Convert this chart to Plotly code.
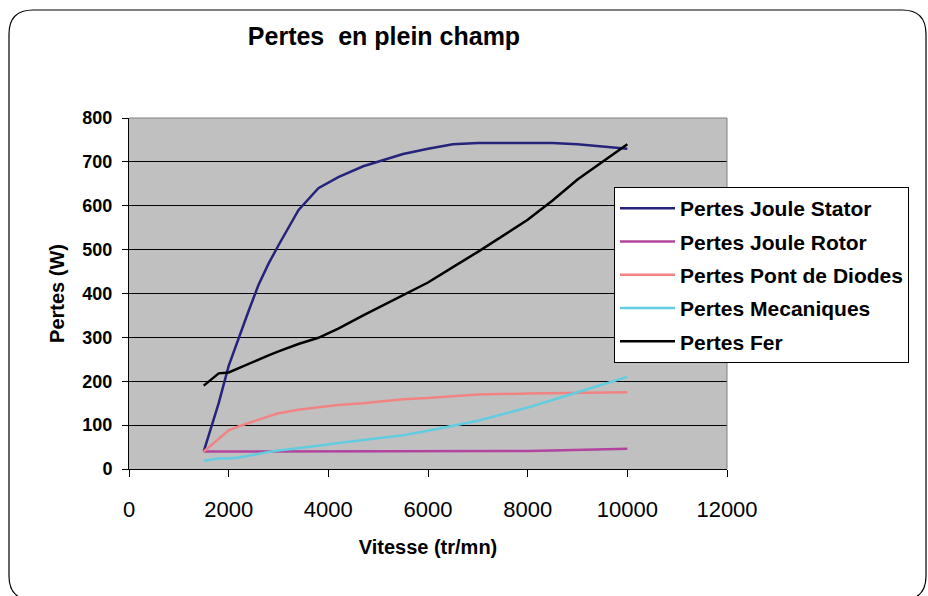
import plotly.graph_objects as go

# Vitesse (tr/mn)
vitesse = [1500, 1800, 2000, 2200, 2400, 2600, 2800, 3000, 3400, 3800,
           4200, 4700, 5500, 6000, 6500, 7000, 8000, 8500, 9000, 10000]

# Pertes (W)
joule_stator = [40, 150, 235, 300, 360, 420, 468, 510, 590, 640,
                665, 690, 718, 730, 740, 743, 743, 743, 740, 730]
joule_rotor = [40, 40, 40, 40, 40, 40, 40, 40, 40, 40,
               40, 40, 40, 40, 40, 40, 41, 42, 43, 46]
pont_diodes = [40, 70, 88, 97, 105, 113, 120, 127, 135, 141,
               146, 150, 159, 162, 166, 170, 172, 173, 174, 175]
mecaniques = [19, 24, 24, 26, 30, 35, 39, 42, 47, 53,
              59, 66, 77, 87, 98, 110, 140, 157, 175, 210]
fer = [190, 218, 220, 230, 240, 250, 259, 268, 285, 299,
       320, 350, 395, 425, 460, 495, 568, 612, 660, 740]

series = [
    ("Pertes Joule Stator", joule_stator, "#25237a"),
    ("Pertes Joule Rotor", joule_rotor, "#b0449f"),
    ("Pertes Pont de Diodes", pont_diodes, "#f28383"),
    ("Pertes Mecaniques", mecaniques, "#62cde0"),
    ("Pertes Fer", fer, "#000000"),
]

font = "Liberation Sans, Arial, sans-serif"

fig = go.Figure()
for name, vals, color in series:
    fig.add_trace(go.Scatter(
        x=vitesse, y=vals, mode="lines", name=f"<b>{name}</b>", legendgroup=name,
        line=dict(color=color, width=2.5)
    ))

# conversion pixels -> coordonnées "paper" (zone de tracé 129..727 x 118..469)
def px(x):
    return (x - 129) / 598

def py(y):
    return (469 - y) / 351

l, t, r, b, rad = 9, 10, 926, 600, 24
border = (f"M {px(l)},{py(t + rad)} Q {px(l)},{py(t)} {px(l + rad)},{py(t)} "
          f"L {px(r - rad)},{py(t)} Q {px(r)},{py(t)} {px(r)},{py(t + rad)} "
          f"L {px(r)},{py(b - rad)} Q {px(r)},{py(b)} {px(r - rad)},{py(b)} "
          f"L {px(l + rad)},{py(b)} Q {px(l)},{py(b)} {px(l)},{py(b - rad)} Z")

fig.update_layout(
    width=928, height=596,
    margin=dict(l=129, r=201, t=118, b=127),
    paper_bgcolor="white",
    plot_bgcolor="#c0c0c0",
    font=dict(family=font, color="black"),
    title=dict(text="<b>Pertes\u00a0 en plein champ</b>", font=dict(size=25),
               x=384 / 928, xanchor="center", y=1 - 36 / 596, yanchor="middle",
               xref="container", yref="container"),
    xaxis=dict(range=[0, 12000], dtick=2000, tickformat="d", showgrid=False, zeroline=False,
               showline=True, linecolor="black", linewidth=1,
               ticks="outside", ticklen=7, tickcolor="black",
               tickfont=dict(size=22), ticklabelstandoff=14,
               title=dict(text="<b>Vitesse (tr/mn)</b>", font=dict(size=20), standoff=18)),
    yaxis=dict(range=[0, 800], dtick=100, showgrid=True, gridcolor="black", gridwidth=1,
               zeroline=False, showline=True, linecolor="black", linewidth=1,
               ticks="outside", ticklen=6, tickcolor="black",
               tickfont=dict(size=18), ticklabelstandoff=6,
               tickprefix="<b>", ticksuffix="</b>",
               title=dict(text="<b>Pertes (W)</b>", font=dict(size=20), standoff=12)),
    legend=dict(x=px(614), y=py(187), xanchor="left", yanchor="top",
                bgcolor="white", bordercolor="black", borderwidth=1,
                font=dict(size=21, family=font), tracegroupgap=3,
                traceorder="grouped", itemwidth=55),
    shapes=[
        dict(type="line", xref="paper", yref="paper", x0=0, x1=1, y0=1, y1=1,
             line=dict(color="#808080", width=1), layer="above"),
        dict(type="line", xref="paper", yref="paper", x0=1, x1=1, y0=0, y1=1,
             line=dict(color="#808080", width=1), layer="above"),
        dict(type="path", xref="paper", yref="paper", path=border,
             line=dict(color="black", width=1.2)),
    ],
)

fig.write_html("out.html", config={"displayModeBar": False},
               post_script="document.body.style.margin='0px';")
